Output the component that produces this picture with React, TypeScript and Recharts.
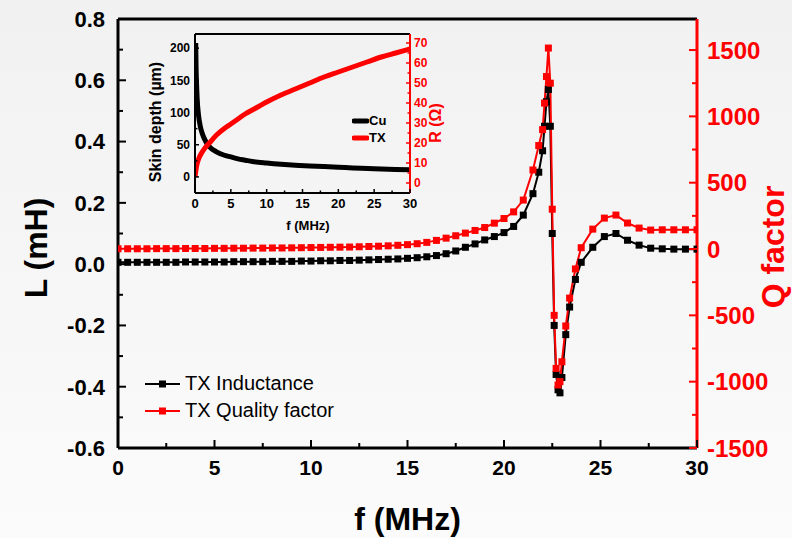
import React from "react";
import { ComposedChart, LineChart, Line, XAxis, YAxis, ReferenceLine, Legend } from "recharts";

const FONT = "'Liberation Sans', Arial, Helvetica, sans-serif";
const RED = "#ff0000";
const BLACK = "#000000";

// Main plot: frequency (MHz), TX inductance (mH), TX quality factor
const freq = [
  0, 0.5, 1, 1.5, 2, 2.5, 3, 3.5, 4, 4.5, 5, 5.5, 6, 6.5, 7, 7.5, 8, 8.5, 9, 9.5,
  10, 10.5, 11, 11.5, 12, 12.5, 13, 13.5, 14, 14.5, 15, 15.5, 16, 16.5, 17, 17.5,
  18, 18.5, 19, 19.5, 20, 20.5, 21, 21.5, 21.8, 22.0, 22.1, 22.2, 22.3, 22.4, 22.5,
  22.6, 22.7, 22.8, 22.9, 23.0, 23.2, 23.4, 23.7, 24.0, 24.6, 25.2, 25.8, 26.4,
  27.0, 27.6, 28.2, 28.8, 29.4, 30.0,
];
const inductance = [
  0.006, 0.006, 0.006, 0.006, 0.006, 0.006, 0.006, 0.007, 0.007, 0.007, 0.007,
  0.007, 0.008, 0.008, 0.008, 0.008, 0.009, 0.009, 0.009, 0.01, 0.01, 0.011,
  0.011, 0.012, 0.012, 0.013, 0.014, 0.015, 0.016, 0.017, 0.019, 0.021, 0.024,
  0.028, 0.034, 0.043, 0.055, 0.066, 0.079, 0.09, 0.103, 0.123, 0.16, 0.23, 0.3,
  0.37, 0.45, 0.53, 0.57, 0.45, 0.1, -0.2, -0.36, -0.41, -0.42, -0.37, -0.23,
  -0.14, -0.05, 0.006, 0.055, 0.09, 0.1, 0.078, 0.062, 0.052, 0.05, 0.049, 0.049,
  0.049,
];
const qFactor = [
  2, 2, 2, 2, 3, 3, 3, 4, 4, 4, 5, 5, 6, 6, 7, 7, 8, 8, 9, 10, 11, 12, 13, 14, 15,
  17, 19, 21, 24, 28, 33, 40, 50, 65, 82, 100, 120, 140, 162, 195, 230, 280, 369,
  596, 780, 900, 1100, 1300, 1515, 1250, 300, -500, -900, -1025, -1000, -850,
  -580, -370, -150, 10, 150, 233, 256, 196, 158, 143, 145, 145, 145, 145,
];

const fTicks = [0, 2.5, 5, 7.5, 10, 12.5, 15, 17.5, 20, 22.5, 25, 27.5, 30];
const fMajor = [0, 5, 10, 15, 20, 25, 30];
const lTicks = [-0.6, -0.5, -0.4, -0.3, -0.2, -0.1, 0, 0.1, 0.2, 0.3, 0.4, 0.5, 0.6, 0.7, 0.8];
const lMajor = [-0.6, -0.4, -0.2, 0, 0.2, 0.4, 0.6, 0.8];
const qTicks = [-1500, -1250, -1000, -750, -500, -250, 0, 250, 500, 750, 1000, 1250, 1500];
const qMajor = [-1500, -1000, -500, 0, 500, 1000, 1500];

// Inset: skin depth of copper and TX resistance vs frequency
const cuFreq = [0.1, 0.15, 0.2, 0.3, 0.5, 0.75, 1, 1.5, 2, 3, 4, 5, 6, 7, 8, 10, 12, 14, 16, 18, 20, 22, 25, 28, 30];
const cuDepth = [208, 170, 150, 122, 95, 78, 68, 55, 47, 39, 34, 31, 28, 26, 24, 21.5, 19.5, 18, 17, 16, 15, 14, 12.5, 11.5, 11];
const txFreq = [0, 0.25, 0.5, 1, 1.5, 2, 3, 4, 5, 6, 7, 8, 9, 10, 12, 14, 16, 18, 20, 22, 24, 26, 28, 30];
const txRes = [3, 9, 12, 15.5, 18, 20, 24, 27, 29.5, 32, 34.5, 36.5, 38.5, 40.5, 44, 47, 50, 53, 55.5, 58, 60.5, 63, 65, 67];

const insetFTicks = [0, 2.5, 5, 7.5, 10, 12.5, 15, 17.5, 20, 22.5, 25, 27.5, 30];
const insetFMajor = [0, 5, 10, 15, 20, 25, 30];
const depthTicks = [0, 25, 50, 75, 100, 125, 150, 175, 200];
const depthMajor = [0, 50, 100, 150, 200];
const resTicks = [0, 5, 10, 15, 20, 25, 30, 35, 40, 45, 50, 55, 60, 65, 70];
const resMajor = [0, 10, 20, 30, 40, 50, 60, 70];

const mainData = freq.map((f, i) => ({ f, L: inductance[i], Q: qFactor[i] }));
const cuData = cuFreq.map((f, i) => ({ f, d: cuDepth[i] }));
const txData = txFreq.map((f, i) => ({ f, r: txRes[i] }));

// tick renderer: inward tick marks, labels only on majors
function makeTick(
  side: "bottom" | "left" | "right",
  majors: number[],
  fmt: (v: number) => string,
  color: string,
  size: number,
  gap: number,
  majorLen: number,
  minorLen: number,
  lineW: number
) {
  return (props: any) => {
    const { x, y, payload } = props;
    const v = payload.value;
    const isMajor = majors.some((m) => Math.abs(m - v) < 1e-6);
    const len = isMajor ? majorLen : minorLen;
    const txt = { fill: color, fontSize: size, fontWeight: 700, fontFamily: FONT };
    if (side === "bottom") {
      return (
        <g>
          <line x1={x} y1={y} x2={x} y2={y - len} stroke={color} strokeWidth={lineW} />
          {isMajor && (
            <text x={x} y={y + gap} textAnchor="middle" {...txt}>
              {fmt(v)}
            </text>
          )}
        </g>
      );
    }
    if (side === "left") {
      return (
        <g>
          <line x1={x} y1={y} x2={x + len} y2={y} stroke={color} strokeWidth={lineW} />
          {isMajor && (
            <text x={x - gap} y={y} dy="0.36em" textAnchor="end" {...txt}>
              {fmt(v)}
            </text>
          )}
        </g>
      );
    }
    return (
      <g>
        <line x1={x} y1={y} x2={x - len} y2={y} stroke={color} strokeWidth={lineW} />
        {isMajor && (
          <text x={x + gap} y={y} dy="0.36em" textAnchor="start" {...txt}>
            {fmt(v)}
          </text>
        )}
      </g>
    );
  };
}

const vLabel = (text: string, color: string, dx: number, dy: number, size: number) => (props: any) => {
  const vb = props.viewBox;
  const cx = vb.x + dx;
  const cy = vb.y + vb.height / 2 + dy;
  return (
    <text
      x={cx}
      y={cy}
      transform={`rotate(-90 ${cx} ${cy})`}
      textAnchor="middle"
      dominantBaseline="central"
      fill={color}
      fontSize={size}
      fontWeight={700}
      fontFamily={FONT}
    >
      {text}
    </text>
  );
};

const hLabel = (text: string, dy: number, size: number, dx = 0) => (props: any) => {
  const vb = props.viewBox;
  return (
    <text
      x={vb.x + vb.width / 2 + dx}
      y={vb.y + dy}
      textAnchor="middle"
      dominantBaseline="central"
      fill={BLACK}
      fontSize={size}
      fontWeight={700}
      fontFamily={FONT}
    >
      {text}
    </text>
  );
};

const squareDot = (color: string) => (props: any) => {
  const { cx, cy, index } = props;
  if (cx == null || cy == null) return <g key={index} />;
  return <rect key={index} x={cx - 3.5} y={cy - 3.5} width={7} height={7} fill={color} />;
};

const mainLegend = (props: any) => (
  <div style={{ fontFamily: FONT, fontSize: 20, color: BLACK }}>
    {(props.payload || []).map((p: any) => (
      <div key={p.value} style={{ display: "flex", alignItems: "center", height: 27 }}>
        <svg width={40} height={12}>
          <line x1={0} y1={6} x2={35} y2={6} stroke={p.color} strokeWidth={2} />
          <rect x={14} y={2.5} width={7} height={7} fill={p.color} />
        </svg>
        <span>{p.value}</span>
      </div>
    ))}
  </div>
);

const insetLegend = (props: any) => (
  <div style={{ fontFamily: FONT, fontSize: 13, fontWeight: 700, color: BLACK }}>
    {(props.payload || []).map((p: any) => (
      <div key={p.value} style={{ display: "flex", alignItems: "center", height: 17 }}>
        <svg width={17} height={8}>
          <line x1={2} y1={4} x2={15} y2={4} stroke={p.color} strokeWidth={5} strokeLinecap="round" />
        </svg>
        <span>{p.value}</span>
      </div>
    ))}
  </div>
);

export default function App() {
  return (
    <div
      style={{
        position: "absolute",
        left: 0,
        top: 0,
        width: 792,
        height: 538,
        background: "linear-gradient(#f1f1f1, #fbfbfb)",
      }}
    >
      <ComposedChart width={792} height={538} data={mainData} margin={{ top: 19, right: 0, bottom: 0, left: 0 }}>
        <XAxis
          dataKey="f"
          type="number"
          domain={[0, 30]}
          ticks={fTicks}
          interval={0}
          allowDataOverflow
          height={90}
          tickSize={0}
          tickMargin={0}
          axisLine={{ stroke: BLACK, strokeWidth: 3 }}
          tick={makeTick("bottom", fMajor, (v) => String(v), BLACK, 21, 27, 8, 5, 2)}
          label={hLabel("f (MHz)", 71, 32)}
        />
        <YAxis
          yAxisId="left"
          orientation="left"
          type="number"
          domain={[-0.6, 0.8]}
          ticks={lTicks}
          interval={0}
          allowDataOverflow
          width={118}
          tickSize={0}
          tickMargin={0}
          axisLine={{ stroke: BLACK, strokeWidth: 3 }}
          tick={makeTick("left", lMajor, (v) => v.toFixed(1), BLACK, 22, 13, 8, 5, 2)}
          label={vLabel("L (mH)", BLACK, 36, 14.5, 32)}
        />
        <YAxis
          yAxisId="right"
          orientation="right"
          type="number"
          domain={[-1500, 1734]}
          ticks={qTicks}
          interval={0}
          allowDataOverflow
          width={95}
          tickSize={0}
          tickMargin={0}
          axisLine={{ stroke: RED, strokeWidth: 3 }}
          tick={makeTick("right", qMajor, (v) => String(v), RED, 24, 10, 8, 5, 2)}
          label={vLabel("Q factor", RED, 76, 13.5, 32)}
        />
        <ReferenceLine yAxisId="left" y={0.8} stroke={BLACK} strokeWidth={3} />
        <Legend
          layout="vertical"
          align="center"
          verticalAlign="middle"
          content={mainLegend}
          wrapperStyle={{ left: 145, top: 370, width: "auto" }}
        />
        <Line
          yAxisId="left"
          dataKey="L"
          name="TX Inductance"
          type="linear"
          stroke={BLACK}
          strokeWidth={2}
          dot={squareDot(BLACK)}
          activeDot={false}
          isAnimationActive={false}
        />
        <Line
          yAxisId="right"
          dataKey="Q"
          name="TX Quality factor"
          type="linear"
          stroke={RED}
          strokeWidth={2}
          dot={squareDot(RED)}
          activeDot={false}
          isAnimationActive={false}
        />
      </ComposedChart>

      <div style={{ position: "absolute", left: 130, top: 24, width: 320, height: 216 }}>
        <LineChart width={320} height={216} margin={{ top: 10, right: 0, bottom: 0, left: 0 }}>
          <XAxis
            dataKey="f"
            type="number"
            domain={[0, 30]}
            ticks={insetFTicks}
            interval={0}
            allowDataOverflow
            height={47}
            tickSize={0}
            tickMargin={0}
            axisLine={{ stroke: BLACK, strokeWidth: 2 }}
            tick={makeTick("bottom", insetFMajor, (v) => String(v), BLACK, 13, 15, 4, 2.5, 1.5)}
            label={hLabel("f (MHz)", 32, 13, 5.5)}
          />
          <YAxis
            yAxisId="d"
            orientation="left"
            type="number"
            domain={[-25, 222]}
            ticks={depthTicks}
            interval={0}
            allowDataOverflow
            width={65}
            tickSize={0}
            tickMargin={0}
            axisLine={{ stroke: BLACK, strokeWidth: 2 }}
            tick={makeTick("left", depthMajor, (v) => String(v), BLACK, 12, 5, 4, 2.5, 1.5)}
            label={vLabel("Skin depth (\u00b5m)", BLACK, 25, 8.5, 16)}
          />
          <YAxis
            yAxisId="r"
            orientation="right"
            type="number"
            domain={[-5, 74.5]}
            ticks={resTicks}
            interval={0}
            allowDataOverflow
            width={40}
            tickSize={0}
            tickMargin={0}
            axisLine={{ stroke: RED, strokeWidth: 2 }}
            tick={makeTick("right", resMajor, (v) => String(v), RED, 12, 4, 4, 2.5, 1.5)}
            label={vLabel("R (\u03a9)", RED, 25, 9.5, 16)}
          />
          <ReferenceLine yAxisId="d" y={222} stroke={BLACK} strokeWidth={2} />
          <Legend
            layout="vertical"
            align="center"
            verticalAlign="middle"
            content={insetLegend}
            wrapperStyle={{ left: 222, top: 88, width: "auto" }}
          />
          <Line
            yAxisId="d"
            data={cuData}
            dataKey="d"
            name="Cu"
            type="monotone"
            stroke={BLACK}
            strokeWidth={5}
            dot={false}
            activeDot={false}
            isAnimationActive={false}
          />
          <Line
            yAxisId="r"
            data={txData}
            dataKey="r"
            name="TX"
            type="monotone"
            stroke={RED}
            strokeWidth={5}
            dot={false}
            activeDot={false}
            isAnimationActive={false}
          />
        </LineChart>
      </div>
    </div>
  );
}
